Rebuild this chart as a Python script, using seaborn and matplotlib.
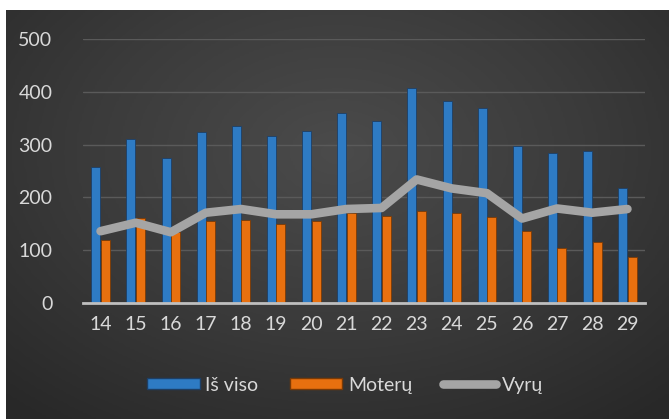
import numpy as np
import pandas as pd
import matplotlib
matplotlib.use("Agg")
import matplotlib.pyplot as plt
import seaborn as sns
from matplotlib.patches import Patch
from matplotlib.lines import Line2D

# values
ages = ['14', '15', '16', '17', '18', '19', '20', '21', '22', '23', '24', '25', '26', '27', '28', '29']
is_viso = [258, 311, 275, 324, 336, 317, 326, 360, 345, 407, 383, 370, 297, 285, 287, 218]
moteru = [120, 161, 135, 155, 158, 149, 156, 171, 165, 174, 170, 162, 137, 105, 116, 88]
vyru = [136, 152, 134, 171, 178, 168, 168, 178, 180, 234, 217, 208, 160, 179, 171, 178]

series_names = ['Iš viso', 'Moterų', 'Vyrų']
bar_colors = ['#2e7bc4', '#e8700f']
line_color = '#a5a5a5'
text_color = '#d9d9d9'

sns.set_theme(style='dark')
plt.rcParams['font.family'] = ['Lato', 'DejaVu Sans']

df = pd.DataFrame({
    'age': ages * 2,
    'value': is_viso + moteru,
    'series': [series_names[0]] * len(ages) + [series_names[1]] * len(ages),
})

fig = plt.figure(figsize=(6.69, 4.19), dpi=100)
fig.patch.set_facecolor('white')

# dark radial background (white strip on top/left like the reference)
bg = fig.add_axes([6 / 669, 0, 1 - 6 / 669, 1 - 10 / 419])
yy, xx = np.mgrid[-1:1:200j, -1:1:300j]
rr = np.sqrt(xx ** 2 + ((yy + 0.3) * 0.9) ** 2)
bg.imshow(rr, cmap=matplotlib.colors.LinearSegmentedColormap.from_list(
    'bg', ['#4b4b4b', '#3b3b3b', '#282828']), aspect='auto', vmin=0, vmax=1.5,
    extent=[0, 1, 0, 1])
bg.set_axis_off()

ax = fig.add_axes([83 / 669, (419 - 303) / 419, (645 - 83) / 669, (303 - 39) / 419])
ax.patch.set_alpha(0)

sns.barplot(data=df, x='age', y='value', hue='series', palette=bar_colors,
            width=0.54, gap=0.04, ax=ax, legend=False,
            edgecolor='#1d3f66', linewidth=0.6, saturation=1)
for bar in ax.patches[len(ages):]:
    bar.set_edgecolor('#7a3a06')

sns.lineplot(x=np.arange(len(ages)), y=vyru, color=line_color, linewidth=6.2,
             ax=ax, solid_capstyle='round', solid_joinstyle='round', zorder=5)

ax.set_xlim(-0.5, len(ages) - 0.5)
ax.set_ylim(0, 500)
ax.set_yticks([0, 100, 200, 300, 400, 500])
ax.grid(axis='y', color='#5a5a5a', linewidth=1)
ax.grid(axis='x', visible=False)
ax.set_axisbelow(True)
for s in ['top', 'right', 'left']:
    ax.spines[s].set_visible(False)
ax.spines['bottom'].set_color('#bfbfbf')
ax.spines['bottom'].set_linewidth(2)
ax.tick_params(axis='both', colors=text_color, labelsize=14, length=0)
ax.tick_params(axis='y', pad=22)
ax.tick_params(axis='x', pad=9)
ax.set_xlabel('')
ax.set_ylabel('')

handles = [
    Patch(facecolor=bar_colors[0], edgecolor='#1d3f66'),
    Patch(facecolor=bar_colors[1], edgecolor='#7a3a06'),
    Line2D([0], [0], color=line_color, linewidth=6.2, solid_capstyle='round'),
]
fig.legend(handles, series_names, loc='center', bbox_to_anchor=(345 / 669, (419 - 385) / 419),
           ncol=3, frameon=False, fontsize=14, labelcolor=text_color,
           handlelength=2.7, handleheight=0.55, handletextpad=0.3, columnspacing=1.6)

fig.savefig('out.png', dpi=100)
